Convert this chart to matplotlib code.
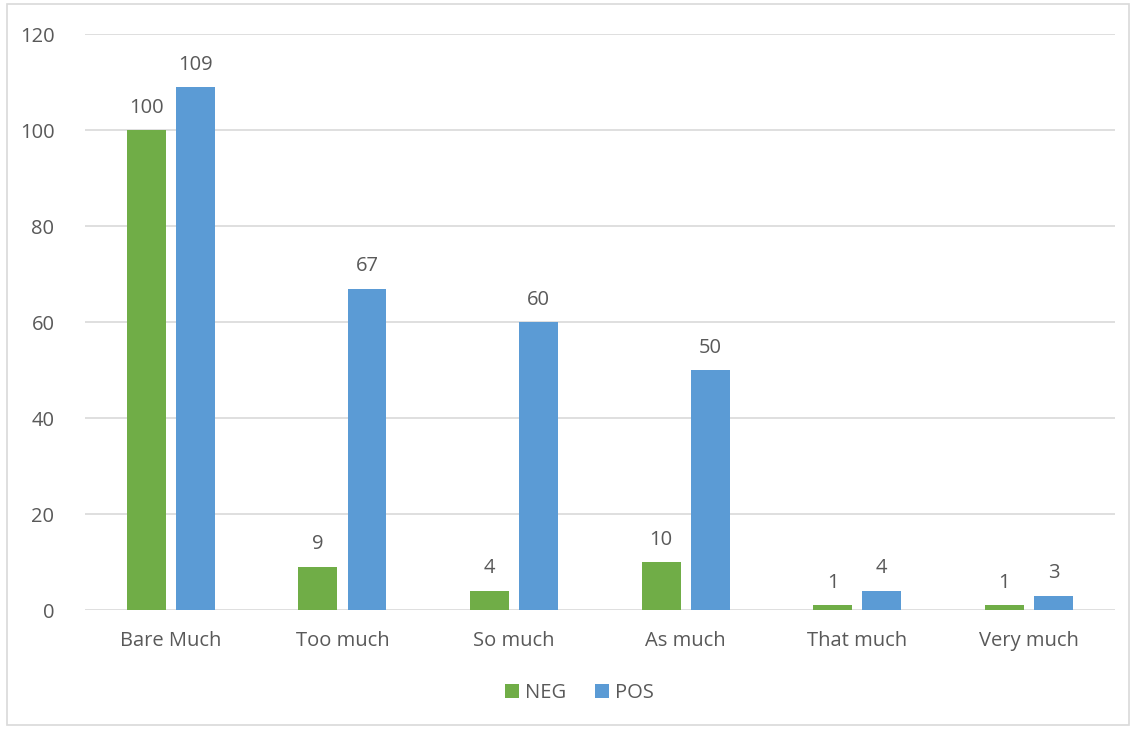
import matplotlib
matplotlib.use("Agg")
import matplotlib.pyplot as plt
import numpy as np
from matplotlib.patches import Rectangle

categories = ["Bare Much", "Too much", "So much", "As much", "That much", "Very much"]
neg_values = [100, 9, 4, 10, 1, 1]
pos_values = [109, 67, 60, 50, 4, 3]
y_ticks = [0, 20, 40, 60, 80, 100, 120]

GREEN = "#70AD47"
BLUE = "#5B9BD5"
TEXT = "#595959"
GRID = "#D9D9D9"
FS = 14.5

plt.rcParams.update({"font.family": ["Open Sans", "DejaVu Sans"], "font.size": FS})

fig = plt.figure(figsize=(11.34, 7.29), dpi=100)
ax = fig.add_axes([0.075, 0.163, 0.908, 0.79])

x = np.arange(len(categories))
w = 0.227
off = 0.143
b1 = ax.bar(x - off, neg_values, w, color=GREEN, label="NEG", zorder=3)
b2 = ax.bar(x + off, pos_values, w, color=BLUE, label="POS", zorder=3)

for bars, vals in ((b1, neg_values), (b2, pos_values)):
    for r, v in zip(bars, vals):
        ax.annotate(str(v), (r.get_x() + r.get_width() / 2, v),
                    xytext=(0, 9), textcoords="offset points",
                    ha="center", va="bottom", color=TEXT, fontsize=FS)

ax.set_xlim(-0.5, len(categories) - 0.5)
ax.set_ylim(0, 120)
ax.set_yticks(y_ticks)
ax.set_xticks(x)
ax.set_xticklabels(categories)
ax.tick_params(length=0, colors=TEXT, labelsize=FS)
ax.tick_params(axis="x", pad=15)
ax.tick_params(axis="y", pad=22)
ax.grid(axis="y", color=GRID, linewidth=1.2, zorder=0)
for s in ax.spines.values():
    s.set_visible(False)

ax.legend(loc="upper center", bbox_to_anchor=(0.48, -0.095), ncol=2,
          frameon=False, handlelength=0.7, handleheight=0.7,
          handletextpad=0.3, columnspacing=1.4, labelcolor=TEXT, fontsize=FS)

fig.patches.append(Rectangle((0.006, 0.005), 0.99, 0.99, transform=fig.transFigure,
                             fill=False, edgecolor=GRID, linewidth=1.2))

fig.savefig("out.png", dpi=100, facecolor="white")
